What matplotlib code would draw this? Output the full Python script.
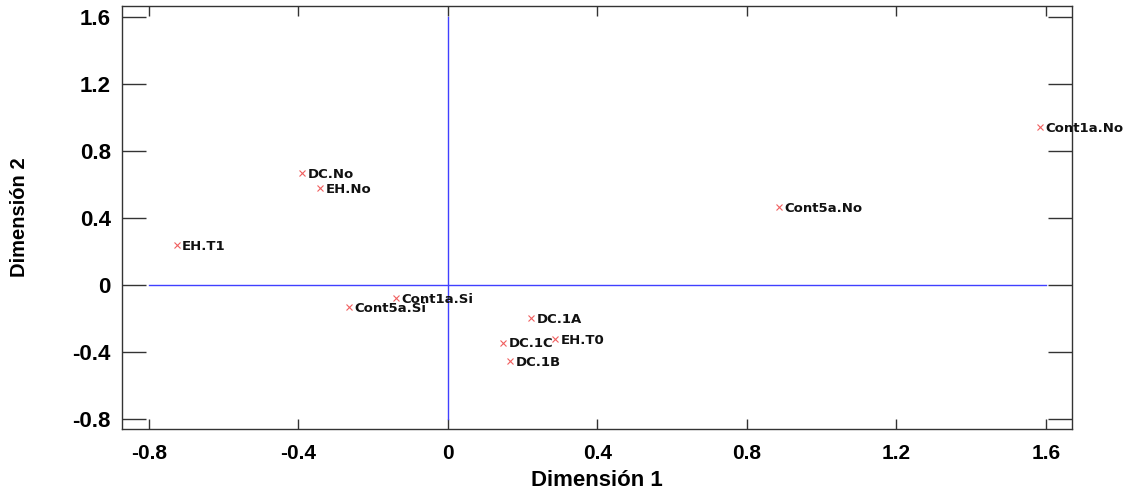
import matplotlib.pyplot as plt

# category points (dimension 1, dimension 2)
labels = ["DC.No", "EH.No", "EH.T1", "Cont1a.Si", "Cont5a.Si",
          "DC.1A", "EH.T0", "DC.1C", "DC.1B", "Cont1a.No", "Cont5a.No"]
dim1 = [-0.391, -0.342, -0.726, -0.139, -0.264,
        0.222, 0.286, 0.148, 0.166, 1.584, 0.886]
dim2 = [0.667, 0.577, 0.239, -0.080, -0.130,
        -0.199, -0.324, -0.344, -0.454, 0.945, 0.464]

ticks = [-0.8, -0.4, 0, 0.4, 0.8, 1.2, 1.6]
tick_labels = ["-0.8", "-0.4", "0", "0.4", "0.8", "1.2", "1.6"]

plt.rcParams['font.family'] = ['Liberation Sans', 'DejaVu Sans']

fig = plt.figure(figsize=(11.29, 4.94), dpi=100)
ax = fig.add_axes([122 / 1129, 1 - 429 / 494, (1072 - 122) / 1129, (429 - 6) / 494])

# reference axes through the origin
ax.plot([-0.8, 1.6], [0, 0], color='#4040ff', lw=1)
ax.plot([0, 0], [-0.8, 1.6], color='#4040ff', lw=1)

ax.plot(dim1, dim2, ls='none', marker='x', ms=4.5, mew=0.8, color='#f06060')
for x, y, s in zip(dim1, dim2, labels):
    ax.annotate(s, (x, y), xytext=(4, -1), textcoords='offset points',
                ha='left', va='center', fontsize=9.5, fontweight='bold',
                family='DejaVu Sans', color='#111111')

ax.set_xlim(-0.872, 1.670)
ax.set_ylim(-0.860, 1.666)
ax.set_xticks(ticks)
ax.set_xticklabels(tick_labels)
ax.set_yticks(ticks)
ax.set_yticklabels(tick_labels)
ax.tick_params(axis='x', direction='in', length=7, width=1, top=True,
               labelsize=15, pad=11, color='#333333')
ax.tick_params(axis='y', direction='in', length=17, width=1, right=True,
               labelsize=16, pad=8, color='#333333')
for lab in ax.get_xticklabels() + ax.get_yticklabels():
    lab.set_fontweight('bold')
for sp in ax.spines.values():
    sp.set_color('#333333')
    sp.set_linewidth(1)

ax.set_xlabel("Dimensión 1", fontsize=16, fontweight='bold', labelpad=5)
ax.set_ylabel("Dimensión 2", fontsize=14.5, fontweight='bold', labelpad=31)

fig.savefig("out.png", dpi=100)
